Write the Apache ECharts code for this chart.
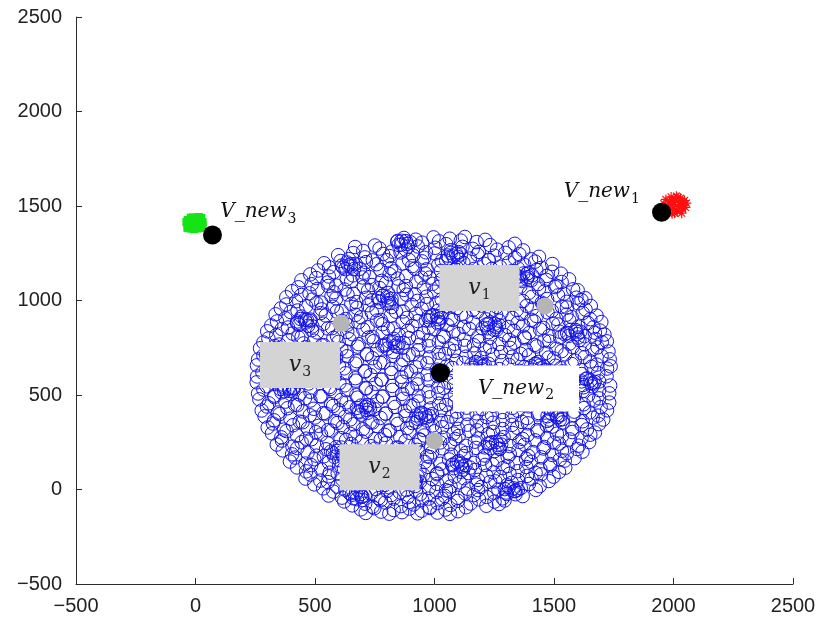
<!DOCTYPE html>
<html>
<head>
<meta charset="utf-8">
<script src="https://cdn.jsdelivr.net/npm/echarts@6/dist/echarts.min.js"></script>
<style>
  html, body { margin: 0; padding: 0; background: #ffffff; }
  #chart { width: 820px; height: 625px; }
</style>
</head>
<body>
<div id="chart"></div>
<script>
// Axis range and tick step
const axisMin = -500;
const axisMax = 2500;
const tickStep = 500;

// Sample cloud (blue rings), one inner array per horizontal band
const cloudX = [
  [846, 872, 921, 948, 996, 1019, 1064, 1110, 1127, 1176, 1212],
  [668, 702, 751, 770, 822, 861, 879, 930, 964, 1003, 1049, 1068, 1117, 1160, 1186, 1233, 1262, 1310, 1336, 1371],
  [597, 641, 660, 709, 742, 785, 812, 858, 893, 911, 957, 1002, 1030, 1079, 1101, 1148, 1180, 1227, 1251, 1296, 1337, 1355, 1404, 1437],
  [538, 559, 607, 640, 688, 713, 758, 801, 819, 866, 907, 948, 967, 1016, 1049, 1093, 1121, 1165, 1208, 1226, 1274, 1311, 1349, 1375, 1421, 1448, 1493],
  [480, 513, 558, 578, 627, 659, 704, 728, 774, 812, 833, 882, 918, 961, 980, 1027, 1066, 1088, 1136, 1170, 1215, 1239, 1281, 1323, 1344, 1391, 1426, 1469, 1492, 1529],
  [443, 486, 505, 552, 589, 633, 651, 699, 738, 779, 797, 846, 880, 924, 945, 992, 1029, 1071, 1092, 1140, 1175, 1219, 1240, 1287, 1323, 1363, 1386, 1433, 1468, 1510, 1532, 1563],
  [404, 430, 477, 511, 556, 578, 624, 661, 704, 722, 770, 806, 849, 871, 917, 955, 998, 1018, 1066, 1102, 1144, 1166, 1212, 1249, 1290, 1312, 1359, 1395, 1437, 1460, 1505, 1541, 1580, 1599],
  [380, 421, 443, 489, 526, 569, 589, 636, 673, 714, 737, 783, 820, 862, 883, 929, 966, 1008, 1030, 1076, 1113, 1155, 1177, 1223, 1260, 1301, 1324, 1370, 1407, 1449, 1471, 1517, 1553, 1594, 1615, 1631],
  [357, 380, 427, 463, 506, 528, 575, 611, 652, 675, 722, 758, 800, 821, 868, 904, 946, 968, 1015, 1051, 1093, 1114, 1161, 1197, 1239, 1261, 1308, 1344, 1386, 1408, 1455, 1491, 1533, 1554, 1601, 1632, 1654],
  [335, 376, 398, 444, 481, 523, 545, 591, 628, 670, 692, 738, 775, 817, 839, 885, 922, 964, 986, 1032, 1069, 1111, 1133, 1179, 1216, 1258, 1280, 1326, 1363, 1405, 1427, 1473, 1510, 1552, 1574, 1620, 1652, 1678],
  [317, 341, 387, 425, 466, 489, 535, 572, 613, 636, 682, 720, 760, 783, 829, 867, 907, 930, 976, 1014, 1054, 1077, 1123, 1161, 1201, 1224, 1270, 1308, 1348, 1371, 1417, 1455, 1495, 1518, 1564, 1602, 1642, 1665, 1698],
  [300, 338, 361, 406, 444, 487, 509, 554, 592, 635, 657, 702, 740, 783, 805, 850, 888, 931, 953, 998, 1036, 1079, 1101, 1146, 1184, 1227, 1249, 1294, 1332, 1375, 1397, 1442, 1480, 1523, 1545, 1590, 1628, 1671, 1692, 1711],
  [284, 305, 350, 389, 430, 452, 497, 536, 577, 599, 644, 683, 724, 746, 791, 830, 871, 893, 938, 977, 1018, 1040, 1085, 1124, 1165, 1187, 1232, 1271, 1312, 1334, 1379, 1418, 1459, 1481, 1526, 1565, 1606, 1628, 1673, 1700, 1721],
  [270, 311, 332, 378, 417, 460, 482, 528, 567, 610, 632, 678, 717, 760, 782, 828, 867, 910, 932, 978, 1017, 1060, 1082, 1128, 1167, 1210, 1232, 1278, 1317, 1360, 1382, 1428, 1467, 1510, 1532, 1578, 1617, 1660, 1682, 1728],
  [262, 284, 331, 371, 413, 436, 483, 523, 565, 588, 635, 675, 717, 740, 787, 827, 869, 892, 939, 979, 1021, 1044, 1091, 1131, 1173, 1196, 1243, 1283, 1325, 1348, 1395, 1435, 1477, 1500, 1547, 1587, 1629, 1652, 1699, 1733],
  [257, 297, 320, 366, 406, 449, 471, 517, 557, 600, 622, 668, 708, 751, 773, 819, 859, 902, 924, 970, 1010, 1053, 1075, 1121, 1161, 1204, 1226, 1272, 1312, 1355, 1377, 1423, 1463, 1506, 1528, 1574, 1614, 1657, 1679, 1722, 1737],
  [258, 280, 326, 367, 408, 431, 477, 518, 559, 582, 628, 669, 710, 733, 779, 820, 861, 884, 930, 971, 1012, 1035, 1081, 1122, 1163, 1186, 1232, 1273, 1314, 1337, 1383, 1424, 1465, 1488, 1534, 1575, 1616, 1639, 1685, 1720],
  [256, 298, 321, 367, 408, 450, 473, 519, 560, 602, 625, 671, 712, 754, 777, 823, 864, 906, 929, 975, 1016, 1058, 1081, 1127, 1168, 1210, 1233, 1279, 1320, 1362, 1385, 1431, 1472, 1514, 1537, 1583, 1624, 1666, 1689, 1735],
  [262, 284, 330, 371, 412, 435, 481, 522, 563, 586, 632, 673, 714, 737, 783, 824, 865, 888, 934, 975, 1016, 1039, 1085, 1126, 1167, 1190, 1236, 1277, 1318, 1341, 1387, 1428, 1469, 1492, 1538, 1579, 1620, 1643, 1689, 1731],
  [267, 307, 330, 376, 416, 458, 481, 527, 567, 609, 632, 678, 718, 760, 783, 829, 869, 911, 934, 980, 1020, 1062, 1085, 1131, 1171, 1213, 1236, 1282, 1322, 1364, 1387, 1433, 1473, 1515, 1538, 1584, 1624, 1666, 1689, 1731],
  [277, 299, 345, 385, 426, 449, 495, 535, 576, 599, 645, 685, 726, 749, 795, 835, 876, 899, 945, 985, 1026, 1049, 1095, 1135, 1176, 1199, 1245, 1285, 1326, 1349, 1395, 1435, 1476, 1499, 1545, 1585, 1626, 1649, 1695, 1722],
  [289, 329, 352, 397, 436, 478, 500, 545, 584, 626, 648, 693, 732, 774, 796, 841, 880, 922, 944, 989, 1028, 1070, 1092, 1137, 1176, 1218, 1240, 1285, 1324, 1366, 1388, 1433, 1472, 1514, 1536, 1581, 1620, 1662, 1684, 1706],
  [302, 324, 369, 408, 448, 470, 515, 554, 594, 616, 661, 700, 740, 762, 807, 846, 886, 908, 953, 992, 1032, 1054, 1099, 1138, 1178, 1200, 1245, 1284, 1324, 1346, 1391, 1430, 1470, 1492, 1537, 1576, 1616, 1638, 1688],
  [320, 359, 381, 425, 463, 504, 525, 569, 607, 648, 669, 713, 751, 792, 813, 857, 895, 936, 957, 1001, 1039, 1080, 1101, 1145, 1183, 1224, 1245, 1289, 1327, 1368, 1389, 1433, 1471, 1512, 1533, 1577, 1615, 1652, 1671],
  [340, 362, 406, 444, 485, 507, 551, 589, 630, 652, 696, 734, 775, 797, 841, 879, 920, 942, 986, 1024, 1065, 1087, 1131, 1169, 1210, 1232, 1276, 1314, 1355, 1377, 1421, 1459, 1500, 1522, 1566, 1604, 1647],
  [365, 404, 426, 469, 506, 546, 567, 610, 647, 687, 708, 751, 788, 828, 849, 892, 929, 969, 990, 1033, 1070, 1110, 1131, 1174, 1211, 1251, 1272, 1315, 1352, 1392, 1413, 1456, 1493, 1533, 1554, 1597, 1619],
  [395, 417, 460, 497, 537, 558, 601, 638, 678, 699, 742, 779, 819, 840, 883, 920, 960, 981, 1024, 1061, 1101, 1122, 1165, 1202, 1242, 1263, 1306, 1343, 1383, 1404, 1447, 1484, 1524, 1545, 1586],
  [425, 463, 484, 526, 562, 601, 621, 663, 699, 738, 758, 800, 836, 875, 895, 937, 973, 1012, 1032, 1074, 1110, 1149, 1169, 1211, 1247, 1286, 1306, 1348, 1384, 1423, 1443, 1485, 1521, 1547],
  [460, 481, 522, 557, 595, 614, 654, 689, 727, 746, 786, 821, 859, 878, 918, 953, 991, 1010, 1050, 1085, 1123, 1142, 1182, 1217, 1255, 1274, 1314, 1349, 1387, 1406, 1446, 1478, 1498],
  [497, 534, 554, 593, 627, 664, 683, 721, 755, 792, 811, 849, 883, 920, 939, 977, 1011, 1048, 1067, 1105, 1139, 1176, 1195, 1233, 1267, 1304, 1323, 1361, 1395, 1424, 1440],
  [557, 577, 613, 645, 680, 698, 734, 766, 801, 819, 855, 887, 922, 940, 976, 1008, 1043, 1061, 1097, 1129, 1164, 1182, 1218, 1250, 1285, 1303, 1339, 1369],
  [622, 656, 675, 710, 741, 775, 794, 829, 860, 894, 913, 948, 979, 1013, 1032, 1067, 1098, 1132, 1151, 1186, 1217, 1251, 1270, 1293],
  [692, 712, 748, 777, 811, 829, 864, 895, 929, 946, 981, 1012, 1046, 1064, 1098]
];
const cloudY = [
  [1315, 1331, 1322, 1306, 1334, 1313, 1327, 1317, 1336, 1309, 1321],
  [1283, 1262, 1291, 1275, 1259, 1296, 1270, 1286, 1255, 1279, 1298, 1266, 1284, 1273, 1257, 1293, 1269, 1281, 1300, 1265],
  [1240, 1219, 1251, 1228, 1212, 1246, 1235, 1254, 1215, 1238, 1226, 1249, 1209, 1233, 1256, 1222, 1243, 1214, 1237, 1252, 1224, 1245, 1218, 1231],
  [1197, 1176, 1209, 1185, 1168, 1203, 1192, 1213, 1171, 1196, 1182, 1207, 1165, 1188, 1211, 1174, 1199, 1167, 1194, 1214, 1179, 1201, 1170, 1189, 1206, 1173, 1193],
  [1138, 1159, 1127, 1150, 1166, 1133, 1147, 1124, 1162, 1139, 1154, 1129, 1168, 1143, 1121, 1157, 1135, 1163, 1126, 1149, 1140, 1167, 1131, 1155, 1123, 1146, 1161, 1130, 1152, 1142],
  [1107, 1086, 1119, 1095, 1079, 1113, 1101, 1122, 1082, 1104, 1091, 1116, 1077, 1099, 1121, 1088, 1110, 1076, 1096, 1118, 1084, 1106, 1093, 1120, 1080, 1103, 1115, 1087, 1109, 1078, 1098, 1112],
  [1049, 1070, 1038, 1061, 1077, 1044, 1058, 1035, 1073, 1052, 1066, 1040, 1075, 1056, 1033, 1068, 1047, 1072, 1037, 1060, 1051, 1078, 1042, 1064, 1034, 1057, 1074, 1041, 1063, 1048, 1071, 1036, 1059, 1054],
  [1017, 996, 1029, 1005, 989, 1023, 1011, 1032, 992, 1014, 1001, 1026, 987, 1009, 1031, 998, 1020, 986, 1006, 1028, 994, 1016, 1003, 1030, 990, 1013, 1025, 997, 1019, 988, 1008, 1027, 993, 1015, 1002, 1012],
  [958, 979, 947, 970, 986, 953, 967, 944, 982, 961, 975, 949, 984, 965, 942, 977, 956, 981, 946, 969, 960, 987, 951, 973, 943, 966, 983, 950, 972, 957, 980, 945, 968, 963, 985, 952, 971],
  [927, 906, 939, 915, 899, 933, 921, 942, 902, 924, 911, 936, 897, 919, 941, 908, 930, 896, 916, 938, 904, 926, 913, 940, 900, 923, 935, 907, 929, 898, 918, 937, 903, 925, 912, 934, 901, 920],
  [868, 889, 857, 880, 896, 863, 877, 854, 892, 871, 885, 859, 894, 875, 852, 887, 866, 891, 856, 879, 870, 897, 861, 883, 853, 876, 893, 860, 882, 867, 890, 855, 878, 873, 895, 862, 881, 858, 886],
  [837, 816, 849, 825, 809, 843, 831, 852, 812, 834, 821, 846, 807, 829, 851, 818, 840, 806, 826, 848, 814, 836, 823, 850, 810, 833, 845, 817, 839, 808, 828, 847, 813, 835, 822, 844, 811, 830, 841, 820],
  [778, 799, 767, 790, 806, 773, 787, 764, 802, 781, 795, 769, 804, 785, 762, 797, 776, 801, 766, 789, 780, 807, 771, 793, 763, 786, 803, 770, 792, 777, 800, 765, 788, 783, 805, 772, 791, 768, 796, 779, 784],
  [747, 726, 759, 735, 719, 753, 741, 762, 722, 744, 731, 756, 717, 739, 761, 728, 750, 716, 736, 758, 724, 746, 733, 760, 720, 743, 755, 727, 749, 718, 738, 757, 723, 745, 732, 754, 721, 740, 752, 730],
  [688, 709, 677, 700, 716, 683, 697, 674, 712, 691, 705, 679, 714, 695, 672, 707, 686, 711, 676, 699, 690, 717, 681, 703, 673, 696, 713, 680, 702, 687, 710, 675, 698, 693, 715, 682, 701, 678, 706, 689],
  [657, 636, 669, 645, 629, 663, 651, 672, 632, 654, 641, 666, 627, 649, 671, 638, 660, 626, 646, 668, 634, 656, 643, 670, 630, 653, 665, 637, 659, 628, 648, 667, 633, 655, 642, 664, 631, 650, 661, 640, 652],
  [598, 619, 587, 610, 626, 593, 607, 584, 622, 601, 615, 589, 624, 605, 582, 617, 596, 621, 586, 609, 600, 627, 591, 613, 583, 606, 623, 590, 612, 597, 620, 585, 608, 603, 625, 592, 611, 588, 616, 599],
  [567, 546, 579, 555, 539, 573, 561, 582, 542, 564, 551, 576, 537, 559, 581, 548, 570, 536, 556, 578, 544, 566, 553, 580, 540, 563, 575, 547, 569, 538, 558, 577, 543, 565, 552, 574, 541, 560, 572, 550],
  [508, 529, 497, 520, 536, 503, 517, 494, 532, 511, 525, 499, 534, 515, 492, 527, 506, 531, 496, 519, 510, 537, 501, 523, 493, 516, 533, 500, 522, 507, 530, 495, 518, 513, 535, 502, 521, 498, 526, 509],
  [477, 456, 489, 465, 449, 483, 471, 492, 452, 474, 461, 486, 447, 469, 491, 458, 480, 446, 466, 488, 454, 476, 463, 490, 450, 473, 485, 457, 479, 448, 468, 487, 453, 475, 462, 484, 451, 470, 482, 460],
  [418, 439, 407, 430, 446, 413, 427, 404, 442, 421, 435, 409, 444, 425, 402, 437, 416, 441, 406, 429, 420, 447, 411, 433, 403, 426, 443, 410, 432, 417, 440, 405, 428, 423, 445, 412, 431, 408, 436, 419],
  [387, 366, 399, 375, 359, 393, 381, 402, 362, 384, 371, 396, 357, 379, 401, 368, 390, 356, 376, 398, 364, 386, 373, 400, 360, 383, 395, 367, 389, 358, 378, 397, 363, 385, 372, 394, 361, 380, 391, 370],
  [328, 349, 317, 340, 356, 323, 337, 314, 352, 331, 345, 319, 354, 335, 312, 347, 326, 351, 316, 339, 330, 357, 321, 343, 313, 336, 353, 320, 342, 327, 350, 315, 338, 333, 355, 322, 341, 318, 346],
  [297, 276, 309, 285, 269, 303, 291, 312, 272, 294, 281, 306, 267, 289, 311, 278, 300, 266, 286, 308, 274, 296, 283, 310, 270, 293, 305, 277, 299, 268, 288, 307, 273, 295, 282, 304, 271, 290, 301],
  [238, 259, 227, 250, 266, 233, 247, 224, 262, 241, 255, 229, 264, 245, 222, 257, 236, 261, 226, 249, 240, 267, 231, 253, 223, 246, 263, 230, 252, 237, 260, 225, 248, 243, 265, 232, 251],
  [207, 186, 219, 195, 179, 213, 201, 222, 182, 204, 191, 216, 177, 199, 221, 188, 210, 176, 196, 218, 184, 206, 193, 220, 180, 203, 215, 187, 209, 178, 198, 217, 183, 205, 192, 214, 200],
  [148, 169, 137, 160, 176, 143, 157, 134, 172, 151, 165, 139, 174, 155, 132, 167, 146, 171, 136, 159, 150, 177, 141, 163, 133, 156, 173, 140, 162, 147, 170, 135, 158, 153, 166],
  [117, 96, 129, 105, 89, 123, 111, 132, 92, 114, 101, 126, 87, 109, 131, 98, 120, 86, 106, 128, 94, 116, 103, 130, 90, 113, 125, 97, 119, 88, 108, 127, 93, 115],
  [58, 79, 47, 70, 86, 53, 67, 44, 82, 61, 75, 49, 84, 65, 42, 77, 56, 81, 46, 69, 60, 87, 51, 73, 43, 66, 83, 50, 72, 57, 80, 45, 68],
  [27, 6, 39, 15, -1, 33, 21, 42, 2, 24, 11, 36, -3, 19, 41, 8, 30, -4, 16, 38, 4, 26, 13, 40, 0, 23, 35, 7, 29, -2, 18],
  [-32, -11, -43, -20, -4, -37, -23, -46, -8, -29, -15, -41, -6, -25, -48, -13, -34, -9, -44, -21, -30, -3, -39, -17, -47, -24, -7, -35],
  [-63, -84, -51, -75, -91, -57, -69, -48, -88, -66, -79, -54, -93, -71, -49, -82, -60, -94, -74, -52, -86, -64, -77, -58],
  [-105, -124, -99, -117, -128, -108, -120, -101, -126, -112, -98, -122, -106, -129, -115]
];

// Denser knots of rings inside the cloud
const clumpX = [
  [432, 458, 471, 440, 463, 425, 478], [618, 649, 663, 634, 651, 612, 670], [803, 828, 845, 811, 836, 795, 850],
  [1060, 1091, 1104, 1068, 1096, 1055, 1110], [1361, 1386, 1404, 1372, 1390, 1353, 1409], [1562, 1592, 1600, 1570, 1597, 1555, 1610],
  [1480, 1510, 1524, 1488, 1515, 1473, 1528], [1233, 1258, 1273, 1241, 1266, 1224, 1279], [884, 907, 923, 888, 915, 874, 929],
  [581, 612, 620, 593, 616, 575, 631], [360, 391, 399, 372, 395, 354, 409], [681, 712, 720, 693, 716, 675, 730],
  [980, 1011, 1019, 992, 1015, 974, 1029], [1161, 1192, 1200, 1173, 1196, 1155, 1210], [540, 571, 579, 552, 575, 534, 589],
  [1621, 1652, 1660, 1633, 1656, 1615, 1670], [1300, 1331, 1339, 1312, 1335, 1294, 1349], [771, 802, 810, 783, 806, 765, 820],
  [930, 961, 969, 942, 965, 924, 979], [1081, 1112, 1120, 1093, 1116, 1075, 1130], [1410, 1441, 1449, 1422, 1445, 1404, 1459],
  [301, 332, 340, 313, 336, 295, 350], [850, 881, 889, 862, 885, 844, 899], [1221, 1252, 1260, 1233, 1256, 1215, 1270],
  [660, 691, 699, 672, 695, 654, 709]
];
const clumpY = [
  [871, 899, 866, 902, 884, 889, 893], [1174, 1192, 1166, 1201, 1180, 1185, 1194], [746, 779, 755, 784, 761, 768, 775],
  [1223, 1246, 1216, 1252, 1231, 1238, 1244], [1111, 1139, 1106, 1143, 1124, 1127, 1133], [813, 836, 804, 845, 822, 828, 835],
  [370, 396, 369, 404, 381, 388, 395], [219, 251, 216, 250, 235, 243, 238], [50, 80, 45, 83, 61, 72, 69],
  [173, 197, 166, 204, 181, 192, 189], [514, 536, 505, 543, 521, 533, 529], [413, 437, 406, 444, 421, 432, 429],
  [895, 915, 886, 923, 901, 912, 909], [643, 667, 636, 674, 651, 662, 659], [694, 716, 685, 723, 701, 712, 709],
  [553, 577, 546, 584, 561, 572, 569], [-16, 6, -25, 13, -9, 2, -1], [993, 1017, 986, 1024, 1001, 1012, 1009],
  [374, 396, 365, 403, 381, 392, 389], [113, 137, 106, 144, 121, 132, 129], [634, 656, 625, 663, 641, 652, 649],
  [693, 717, 686, 724, 701, 712, 709], [1294, 1314, 1285, 1316, 1300, 1311, 1308], [853, 877, 846, 884, 861, 872, 869],
  [-46, -24, -55, -17, -39, -28, -31]
];

// Red cluster (asterisks) near the first new point
const redX = [1952, 1960, 1968, 1973, 1979, 1984, 1990, 1994, 1998, 2003, 2008, 2012, 2016, 2021, 2025, 2029, 2034, 2038, 2042, 2046, 2050, 2054, 1987, 2010, 2032, 1966, 2019, 2040, 1995, 2005];
const redY = [1480, 1512, 1535, 1466, 1497, 1524, 1548, 1459, 1486, 1509, 1531, 1552, 1470, 1496, 1519, 1541, 1462, 1484, 1507, 1529, 1493, 1515, 1503, 1478, 1499, 1492, 1545, 1522, 1530, 1462];

// Green cluster (filled squares) near the third new point
const greenX = [-34, -34, -33, -20, -21, -19, -20, -6, -7, -5, -6, 8, 7, 9, 8, 22, 21, 23, 24, 30, 30, -12, 14, -38, 0];
const greenY = [1384, 1405, 1426, 1380, 1400, 1422, 1438, 1378, 1396, 1415, 1434, 1381, 1399, 1418, 1436, 1384, 1403, 1421, 1437, 1395, 1415, 1440, 1442, 1415, 1408];

// New points (black) and reference points (grey)
const newX = [1950, 1024, 71];
const newY = [1467, 618, 1347];
const refX = [1463, 1000, 610];
const refY = [971, 257, 879];

// Annotation boxes for v1..v3 (grey) and the V_new labels, anchored at their centres
const boxSub = ['1', '2', '3'];
const boxX = [1188, 770, 437];
const boxY = [1066, 118, 659];
const newLabelSub = ['1', '2', '3'];
const newLabelX = [1700, 1341, 263];
const newLabelY = [1574, 534, 1468];

const flatten = (xs, ys) => {
  const out = [];
  xs.forEach((row, i) => row.forEach((x, j) => {
    if (ys[i] && ys[i][j] !== undefined) out.push([x, ys[i][j]]);
  }));
  return out;
};
const cloud = flatten(cloudX, cloudY).concat(flatten(clumpX, clumpY));
const zip = (xs, ys) => xs.map((x, i) => [x, ys[i]]);

const richText = {
  m: { fontFamily: 'DejaVu Serif', fontStyle: 'italic', fontSize: 20, lineHeight: 28, color: '#111', verticalAlign: 'middle' },
  s: { fontFamily: 'DejaVu Serif', fontSize: 14, lineHeight: 14, color: '#111', verticalAlign: 'bottom', padding: [0, 0, 0, 1] },
  bm: { fontFamily: 'DejaVu Serif', fontStyle: 'italic', fontSize: 22, lineHeight: 28, color: '#222', verticalAlign: 'middle' },
  bs: { fontFamily: 'DejaVu Serif', fontSize: 14, lineHeight: 14, color: '#222', verticalAlign: 'bottom', padding: [0, 0, 0, 1] }
};

const minusFmt = v => String(v).replace('-', '\u2212');

const chart = echarts.init(document.getElementById('chart'), null, { renderer: 'canvas' });
chart.setOption({
  animation: false,
  backgroundColor: '#ffffff',
  grid: { left: 76, right: 27, top: 17, bottom: 41, containLabel: false },
  xAxis: {
    type: 'value', min: axisMin, max: axisMax, interval: tickStep,
    splitLine: { show: false },
    axisLine: { show: true, onZero: false, lineStyle: { color: '#2b2b2b', width: 1 } },
    axisTick: { show: true, inside: true, length: 6, lineStyle: { color: '#2b2b2b' } },
    axisLabel: { margin: 12, fontSize: 20, fontFamily: 'Liberation Sans', color: '#222', formatter: minusFmt }
  },
  yAxis: {
    type: 'value', min: axisMin, max: axisMax, interval: tickStep,
    splitLine: { show: false },
    axisLine: { show: true, onZero: false, lineStyle: { color: '#2b2b2b', width: 1 } },
    axisTick: { show: true, inside: true, length: 6, lineStyle: { color: '#2b2b2b' } },
    axisLabel: { margin: 14, fontSize: 20, fontFamily: 'Liberation Sans', color: '#222', formatter: minusFmt }
  },
  series: [
    {
      type: 'scatter', silent: true, data: cloud, symbol: 'circle', symbolSize: 13.5,
      itemStyle: { color: 'rgba(0,0,0,0)', borderColor: '#1414e8', borderWidth: 1, opacity: 1 }
    },
    {
      type: 'scatter', silent: true, data: zip(redX, redY),
      symbol: 'path://M5 0L5 10M0 5L10 5M1.5 1.5L8.5 8.5M8.5 1.5L1.5 8.5', symbolSize: 10,
      itemStyle: { color: 'rgba(0,0,0,0)', borderColor: '#ff1010', borderWidth: 1.2, opacity: 1 }
    },
    {
      type: 'scatter', silent: true, data: zip(greenX, greenY), symbol: 'rect', symbolSize: 8,
      itemStyle: { color: '#14e414', opacity: 1 }
    },
    {
      type: 'scatter', silent: true, data: zip(refX, refY), symbol: 'circle', symbolSize: 17,
      itemStyle: { color: '#b5b5b5', opacity: 1 }
    },
    {
      type: 'scatter', silent: true, symbol: 'rect', symbolSize: [80, 46],
      itemStyle: { color: '#d4d4d4', opacity: 1 },
      data: boxX.map((x, i) => ({ value: [x, boxY[i]], sub: boxSub[i] })),
      label: {
        show: true, position: 'inside', rich: richText,
        formatter: p => '{bm|v}{bs|' + p.data.sub + '}'
      }
    },
    {
      type: 'scatter', silent: true, symbol: 'rect',
      itemStyle: { color: '#ffffff', opacity: 1 },
      data: newLabelX.map((x, i) => ({
        value: [x, newLabelY[i]], sub: newLabelSub[i],
        symbolSize: i === 1 ? [126, 46] : 0
      })),
      label: {
        show: true, position: 'inside', rich: richText,
        formatter: p => '{m|V_new}{s|' + p.data.sub + '}'
      }
    },
    {
      type: 'scatter', silent: true, data: zip(newX, newY), symbol: 'circle', symbolSize: 19,
      itemStyle: { color: '#000000', opacity: 1 }
    }
  ]
});
</script>
</body>
</html>
